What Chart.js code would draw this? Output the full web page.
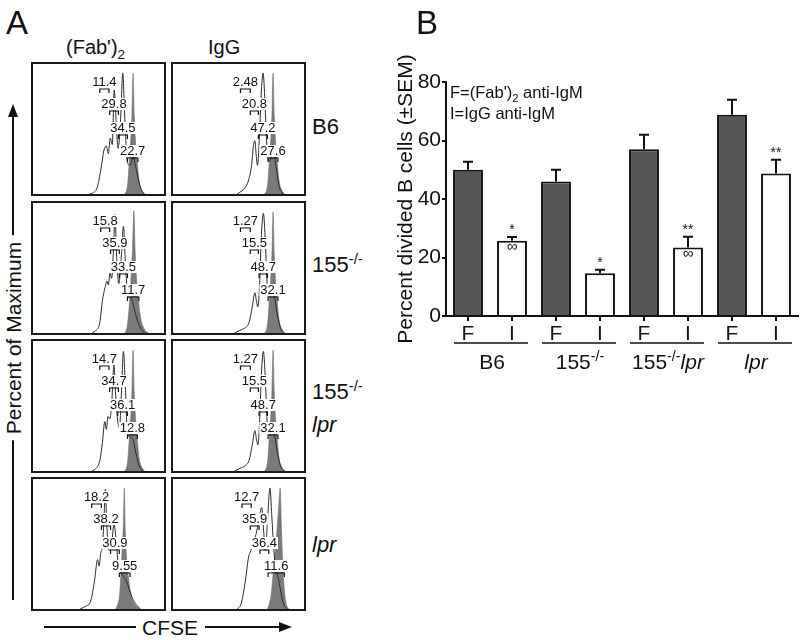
<!DOCTYPE html>
<html>
<head>
<meta charset="utf-8">
<script src="https://cdn.jsdelivr.net/npm/chart.js@4.4.1/dist/chart.umd.min.js"></script>
<style>
body { margin: 0; background: #fff; }
#fig { position: relative; width: 802px; height: 640px; overflow: hidden; font-family: "Liberation Sans", Arial, sans-serif; color: #111; }
.t { position: absolute; white-space: nowrap; line-height: 1; }
.box { position: absolute; width: 135px; height: 134px; border: 2px solid #1a1a1a; box-sizing: border-box; }
.box canvas { display: block; }
sup, sub { font-size: 68%; line-height: 0; }
</style>
</head>
<body>
<div id="fig">
  <canvas id="barChart" width="412" height="380" style="position:absolute;left:390px;top:0;"></canvas>

  <div class="t" style="left:6px;top:6px;font-size:33px;">A</div>
  <div class="t" style="left:416px;top:6px;font-size:33px;">B</div>

  <div class="t" style="left:66px;top:37px;font-size:20px;">(Fab')<sub>2</sub></div>
  <div class="t" style="left:208px;top:37px;font-size:20px;">IgG</div>

  <div class="t" style="left:312px;top:116px;font-size:22px;">B6</div>
  <div class="t" style="left:312px;top:254px;font-size:22px;">155<sup>-/-</sup></div>
  <div class="t" style="left:312px;top:381px;font-size:22px;">155<sup>-/-</sup></div>
  <div class="t" style="left:312px;top:414px;font-size:22px;font-style:italic;">lpr</div>
  <div class="t" style="left:312px;top:534px;font-size:22px;font-style:italic;">lpr</div>

  <!-- y arrow of panel A -->
  <div style="position:absolute;left:12px;top:114px;width:2px;height:486px;background:#111;"></div>
  <div style="position:absolute;left:8px;top:104px;width:0;height:0;border-left:5px solid transparent;border-right:5px solid transparent;border-bottom:13px solid #111;"></div>
  <div class="t" style="left:13px;top:338px;font-size:21px;background:#fff;padding:2px 6px;transform:translate(-50%,-50%) rotate(-90deg);">Percent of Maximum</div>

  <!-- x arrow of panel A -->
  <div style="position:absolute;left:44px;top:626px;width:92px;height:2px;background:#111;"></div>
  <div class="t" style="left:142px;top:617px;font-size:21px;">CFSE</div>
  <div style="position:absolute;left:205px;top:626px;width:76px;height:2px;background:#111;"></div>
  <div style="position:absolute;left:279px;top:622px;width:0;height:0;border-top:5px solid transparent;border-bottom:5px solid transparent;border-left:13px solid #111;"></div>
</div>

<script>
// ---- panel B data ----
var groups = ['B6', '155-/-', '155-/-lpr', 'lpr'];
var fabMean = [50.0, 46.0, 57.0, 68.8];
var fabSem = [2.7, 4.0, 5.0, 5.1];
var iggMean = [25.7, 14.6, 23.4, 48.7];
var iggSem = [1.3, 1.2, 3.7, 4.7];
var iggStars = ['*', '*', '**', '**'];
var iggMarks = ['\u221e', '', '\u221e', ''];
var yTicks = [0, 20, 40, 60, 80];

// ---- panel A data: [CFSE, % of max] ----
var b6FabOpen = [[43,0],[46,1],[49,5],[52,20],[54,33],[56,37],[57.5,31],[59,43],[60.5,38],[62,80],[63.5,55],[65,35],[67,60],[68.5,93],[70,60],[72,25],[74,22],[76.5,28],[79,18],[82,5],[85,0]];
var b6IggOpen = [[49,0],[52,2],[55,5],[57.5,10],[60,22],[61.5,38],[62.5,41],[63.5,30],[64.5,22],[66,45],[67.5,80],[68.8,93],[70,75],[71.5,40],[73,25],[75,28],[76.5,33],[78.5,22],[81,6],[84,0]];
var koFabOpen = [[45,0],[48,2],[51,8],[53,25],[55,35],[56.5,40],[57.5,37],[58.8,46],[60,42],[61.5,65],[62.6,91],[63.8,60],[65.5,38],[67.5,60],[69,82],[70.5,55],[72.5,28],[74.5,27],[76.5,22],[79,12],[82,4],[85,0]];
var koIggOpen = [[47,0],[51,2],[55,4],[58,8],[60.5,20],[62.5,31],[63.8,24],[64.8,20],[66,35],[67.5,75],[69,92],[70.5,70],[72,35],[73.5,28],[75.5,32],[77.5,28],[79.5,15],[82,4],[85,0]];
var koLprFabOpen = [[45,0],[48,2],[51,8],[53,22],[54.8,38],[56,32],[57.2,42],[58.5,40],[60,50],[61.8,82],[63,60],[64.5,40],[66,33],[67.5,60],[69,92],[70.5,65],[72,30],[74,26],[76,25],[78.5,14],[81,4],[84,0]];
var lprFabOpen = [[36,0],[40,2],[44,6],[47,22],[49.3,38],[50.5,33],[51.7,43],[53,48],[54.2,70],[55.2,92],[56.3,65],[58,45],[60,50],[61.8,65],[63.3,55],[65,35],[67,28],[69,25],[71,22],[73.5,15],[76,8],[79,3],[82,0]];
var lprIggOpen = [[49,0],[52,4],[55,20],[57.7,40],[59.5,45],[61.5,52],[63.5,58],[65.5,68],[67.7,78],[69.2,60],[70.5,45],[72,65],[74,93],[75.5,70],[77,45],[78.5,30],[80,25],[82,15],[84,5],[87,0]];

var ctrlPeak = [[70,0],[71.5,3],[72.5,10],[73.5,25],[74.5,40],[75.5,60],[76.4,93],[77.3,60],[78.3,40],[79.5,25],[81,10],[83,3],[85,0]];
var koFabCtrl = [[70,0],[71.5,3],[72.5,10],[73.8,25],[75,45],[76,65],[77,94],[78,62],[79,42],[80.5,25],[82.5,10],[85,3],[88,0]];
var lprFabCtrl = [[63,0],[64.5,3],[66,10],[67,25],[68,45],[69,65],[69.7,93],[70.4,62],[71.3,42],[72.8,25],[75,10],[78,3],[82,0]];
var lprIggCtrl = [[72,0],[73.5,4],[75,12],[76.5,28],[78,45],[79.5,62],[80.8,80],[81.8,93],[82.8,62],[84,30],[85.5,10],[87,2],[89,0]];

var b6FabGates = [[51,58],[58.5,65.2],[65.2,72.1],[72.1,80.1]];
var b6IggGates = [[51.5,59],[59,65.2],[65.2,72.1],[72.6,80.1]];
var koFabGates = [[51.7,58.5],[59.2,65.9],[65.9,72.1],[72.1,80.8]];
var koIggGates = [[51.5,59],[59,65.2],[65.7,72.1],[72.6,80.1]];
var koLprFabGates = [[51,58],[58.5,65.2],[64.7,72.1],[72.1,79.6]];
var lprFabGates = [[44.8,52.2],[52.2,59.2],[59.2,65.9],[65.9,74.1]];
var lprIggGates = [[52.7,59.7],[59,65.7],[66.4,73.1],[72.6,85]];

var b6FabPct = ['11.4', '29.8', '34.5', '22.7'];
var b6IggPct = ['2.48', '20.8', '47.2', '27.6'];
var koFabPct = ['15.8', '35.9', '33.5', '11.7'];
var koIggPct = ['1.27', '15.5', '48.7', '32.1'];
var koLprFabPct = ['14.7', '34.7', '36.1', '12.8'];
var koLprIggPct = ['1.27', '15.5', '48.7', '32.1'];
var lprFabPct = ['18.2', '38.2', '30.9', '9.55'];
var lprIggPct = ['12.7', '35.9', '36.4', '11.6'];

var FONT = '"Liberation Sans", Arial, sans-serif';

function toParts(label) {
    return label.split(/(-\/-|lpr)/).filter(Boolean).map(function(s) {
        return [s, s === '-/-' ? 'sup' : (s === 'lpr' ? 'it' : '')];
    });
}

function richText(ctx, parts, x, y, size, align) {
    function fontFor(k) {
        var s = (k === 'sup' || k === 'sub') ? size * 0.68 : size;
        return (k === 'it' ? 'italic ' : '') + s + 'px ' + FONT;
    }
    var total = 0;
    parts.forEach(function(p) { ctx.font = fontFor(p[1]); total += ctx.measureText(p[0]).width; });
    var cx = align === 'center' ? x - total / 2 : x;
    ctx.textAlign = 'left';
    ctx.textBaseline = 'alphabetic';
    parts.forEach(function(p) {
        ctx.font = fontFor(p[1]);
        var dy = p[1] === 'sup' ? -size * 0.36 : (p[1] === 'sub' ? size * 0.24 : 0);
        ctx.fillText(p[0], cx, y + dy);
        cx += ctx.measureText(p[0]).width;
    });
}

// gates with their percentages, drawn on top of the histograms
var gatePlugin = {
    id: 'gates',
    afterDatasetsDraw: function(chart, args, opts) {
        if (!opts.ranges) return;
        var ctx = chart.ctx, a = chart.chartArea, x = chart.scales.x;
        var rows = [25, 47, 71, 94];
        ctx.save();
        ctx.font = '13px ' + FONT;
        ctx.textAlign = 'center';
        ctx.textBaseline = 'middle';
        opts.ranges.forEach(function(r, i) {
            var x1 = x.getPixelForValue(r[0]), x2 = x.getPixelForValue(r[1]);
            var yb = a.top + rows[i];
            var tx = (x1 + x2) / 2, ty = yb - 7;
            var w = ctx.measureText(opts.labels[i]).width;
            ctx.fillStyle = '#fff';
            ctx.fillRect(tx - w / 2 - 1, ty - 6, w + 2, 12);
            ctx.fillStyle = '#111';
            ctx.fillText(opts.labels[i], tx, ty + 0.5);
            ctx.strokeStyle = '#111';
            ctx.lineWidth = 1.2;
            ctx.beginPath();
            ctx.moveTo(x1, yb + 4); ctx.lineTo(x1, yb); ctx.lineTo(x2, yb); ctx.lineTo(x2, yb + 4);
            ctx.stroke();
        });
        ctx.restore();
    }
};

var panels = [
    [b6FabOpen, ctrlPeak, b6FabGates, b6FabPct],
    [b6IggOpen, ctrlPeak, b6IggGates, b6IggPct],
    [koFabOpen, koFabCtrl, koFabGates, koFabPct],
    [koIggOpen, ctrlPeak, koIggGates, koIggPct],
    [koLprFabOpen, ctrlPeak, koLprFabGates, koLprFabPct],
    [koIggOpen, ctrlPeak, koIggGates, koLprIggPct],
    [lprFabOpen, lprFabCtrl, lprFabGates, lprFabPct],
    [lprIggOpen, lprIggCtrl, lprIggGates, lprIggPct]
];
var boxLeft = [31, 171];
var boxTop = [62, 201, 339, 477];
var fig = document.getElementById('fig');

panels.forEach(function(p, i) {
    var div = document.createElement('div');
    div.className = 'box';
    div.style.left = boxLeft[i % 2] + 'px';
    div.style.top = boxTop[Math.floor(i / 2)] + 'px';
    var cv = document.createElement('canvas');
    cv.width = 131; cv.height = 130;
    div.appendChild(cv);
    fig.appendChild(div);
    new Chart(cv, {
        type: 'line',
        data: {
            datasets: [
                {
                    data: p[0].map(function(d) { return {x: d[0], y: d[1]}; }),
                    borderColor: '#2a2a2a', borderWidth: 1, fill: false,
                    pointRadius: 0, cubicInterpolationMode: 'monotone', order: 0
                },
                {
                    data: p[1].map(function(d) { return {x: d[0], y: d[1]}; }),
                    borderColor: '#6f6f6f', borderWidth: 0.6, backgroundColor: '#7a7a7a', fill: 'origin',
                    pointRadius: 0, cubicInterpolationMode: 'monotone', order: 1
                }
            ]
        },
        options: {
            responsive: false,
            animation: false,
            layout: {padding: 0},
            scales: {
                x: {type: 'linear', min: 0, max: 100, display: false},
                y: {min: 0, max: 100, display: false}
            },
            plugins: {
                legend: {display: false},
                tooltip: {enabled: false},
                gates: {ranges: p[2], labels: p[3]}
            }
        },
        plugins: [gatePlugin]
    });
});

// ---- panel B ----
var barLabels = [], barValues = [], barSem = [], barColors = [];
groups.forEach(function(g, i) {
    barLabels.push('F', 'I');
    barValues.push(fabMean[i], iggMean[i]);
    barSem.push(fabSem[i], iggSem[i]);
    barColors.push('#565656', '#ffffff');
});

var extrasPlugin = {
    id: 'extras',
    afterDatasetsDraw: function(chart) {
        var ctx = chart.ctx, ys = chart.scales.y, xs = chart.scales.x, a = chart.chartArea;
        var bars = chart.getDatasetMeta(0).data;
        ctx.save();
        ctx.strokeStyle = '#111';
        ctx.fillStyle = '#111';
        ctx.lineWidth = 2;
        bars.forEach(function(b, i) {
            var top = ys.getPixelForValue(barValues[i] + barSem[i]);
            ctx.beginPath();
            ctx.moveTo(b.x, b.y); ctx.lineTo(b.x, top);
            ctx.moveTo(b.x - 5, top); ctx.lineTo(b.x + 5, top);
            ctx.stroke();
            if (i % 2 === 1) {
                var g = (i - 1) / 2;
                ctx.textAlign = 'center';
                ctx.textBaseline = 'alphabetic';
                ctx.font = '14px ' + FONT;
                ctx.fillText(iggStars[g], b.x, top - 3);
                if (iggMarks[g]) {
                    ctx.font = '15px ' + FONT;
                    ctx.textBaseline = 'middle';
                    ctx.fillText(iggMarks[g], b.x, b.y + 6);
                }
            }
        });
        // group underlines and names
        groups.forEach(function(g, i) {
            var xf = xs.getPixelForValue(2 * i), xi = xs.getPixelForValue(2 * i + 1);
            ctx.lineWidth = 1.5;
            ctx.beginPath();
            ctx.moveTo(xf - 14, a.bottom + 27); ctx.lineTo(xi + 16, a.bottom + 27);
            ctx.stroke();
            richText(ctx, toParts(g), (xf + xi) / 2 + 2, a.bottom + 53, 21, 'center');
        });
        // legend text
        richText(ctx, [['F=(Fab\')', ''], ['2', 'sub'], [' anti-IgM', '']], a.left + 4, a.top + 16, 16.5, 'left');
        richText(ctx, [['I=IgG anti-IgM', '']], a.left + 4, a.top + 37, 16.5, 'left');
        ctx.restore();
    }
};

new Chart(document.getElementById('barChart'), {
    type: 'bar',
    data: {
        labels: barLabels,
        datasets: [{
            data: barValues,
            backgroundColor: barColors,
            borderColor: '#111',
            borderWidth: 2,
            borderSkipped: 'bottom',
            barPercentage: 0.68,
            categoryPercentage: 1
        }]
    },
    options: {
        responsive: false,
        animation: false,
        layout: {padding: {top: 82, right: 4, left: 0, bottom: 0}},
        scales: {
            x: {
                afterFit: function(s) { s.height = 64; },
                grid: {offset: false, drawOnChartArea: false, drawTicks: true, tickLength: 5, color: '#111', lineWidth: 2},
                border: {display: true, color: '#111', width: 2},
                ticks: {color: '#111', font: {size: 21, family: FONT}, padding: 1, maxRotation: 0, autoSkip: false}
            },
            y: {
                min: 0, max: 80,
                afterFit: function(s) { s.width = 56; },
                afterBuildTicks: function(s) { s.ticks = yTicks.map(function(v) { return {value: v}; }); },
                grid: {drawOnChartArea: false, drawTicks: true, tickLength: 4, color: '#111', lineWidth: 2},
                border: {display: true, color: '#111', width: 2},
                ticks: {color: '#111', font: {size: 21, family: FONT}, padding: 1},
                title: {display: true, text: 'Percent divided B cells (\u00b1SEM)', color: '#111', font: {size: 21, family: FONT}, padding: {top: 4, bottom: 0}}
            }
        },
        plugins: {legend: {display: false}, tooltip: {enabled: false}}
    },
    plugins: [extrasPlugin]
});
</script>
</body>
</html>
